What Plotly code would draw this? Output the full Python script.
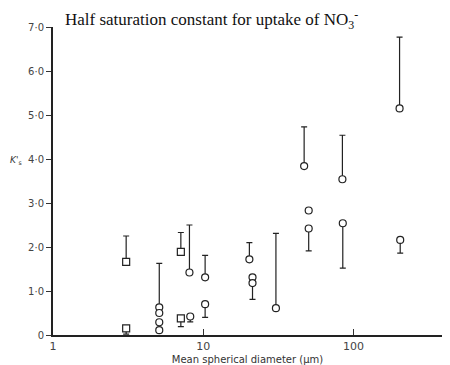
import plotly.graph_objects as go

# Circles (open)
circ_d = [5.1, 5.1, 5.1, 5.1, 8.1, 10.3, 10.3, 8.2, 20.3, 21.3, 21.3, 30.5, 47, 50.4, 50.4, 84.5, 85, 203, 205]
circ_k = [0.63, 0.50, 0.29, 0.11, 1.42, 1.31, 0.70, 0.42, 1.72, 1.31, 1.18, 0.61, 3.84, 2.83, 2.42, 3.54, 2.54, 5.15, 2.16]
circ_up = [1.00, 0, 0, 0, 1.08, 0.50, 0, 0, 0.38, 0, 0, 1.70, 0.89, 0, 0, 1.00, 0, 1.62, 0]
circ_dn = [0, 0, 0, 0, 0, 0, 0.30, 0.12, 0, 0, 0.37, 0, 0, 0, 0.51, 0, 1.02, 0, 0.30]

# Squares (open)
sq_d = [3.07, 3.07, 7.1, 7.1]
sq_k = [1.66, 0.15, 1.89, 0.38]
sq_up = [0.59, 0, 0.44, 0]
sq_dn = [0, 0.13, 0, 0.19]

y_ticks = [0, 1, 2, 3, 4, 5, 6, 7]
y_labels = ["0", "1·0", "2·0", "3·0", "4·0", "5·0", "6·0", "7·0"]
x_ticks = [1, 10, 100]
x_labels = ["1", "10", "100"]

fig = go.Figure()
err_style = dict(type="data", symmetric=False, color="#222", thickness=1.2, width=3)

fig.add_trace(go.Scatter(
    x=circ_d, y=circ_k, mode="markers",
    marker=dict(symbol="circle", size=7, color="white", line=dict(color="#222", width=1.2)),
    error_y=dict(array=circ_up, arrayminus=circ_dn, **err_style),
    showlegend=False))
fig.add_trace(go.Scatter(
    x=sq_d, y=sq_k, mode="markers",
    marker=dict(symbol="square", size=7, color="white", line=dict(color="#222", width=1.2)),
    error_y=dict(array=sq_up, arrayminus=sq_dn, **err_style),
    showlegend=False))

fig.update_layout(
    width=442, height=357,
    margin=dict(l=45, r=8, t=19, b=30, autoexpand=False),
    paper_bgcolor="white", plot_bgcolor="white",
    font=dict(family="DejaVu Sans", size=10, color="#444"),
    xaxis=dict(type="log", range=[0, 2.59], tickvals=x_ticks, ticktext=x_labels,
               ticks="inside", ticklen=6, tickwidth=1, tickcolor="#333", automargin=False,
               showline=True, linecolor="#222", linewidth=2, showgrid=False, zeroline=False,
               tickfont=dict(size=11),
               title=dict(text="Mean spherical diameter (μm)",
                          font=dict(size=10, color="#333"))),
    yaxis=dict(range=[0, 7], tickvals=y_ticks, ticktext=y_labels, automargin=False,
               ticks="outside", ticklen=5, tickwidth=1, tickcolor="#333",
               showline=True, linecolor="#222", linewidth=2, showgrid=False, zeroline=False),
    annotations=[
        dict(text="Half saturation constant for uptake of NO<sub>3</sub><sup>-</sup>",
             xref="paper", yref="paper", x=0.026, y=1.025, xanchor="left", yanchor="middle",
             showarrow=False,
             font=dict(family="Liberation Serif", size=17, color="#111")),
        dict(text="<i>K</i>'<sub>s</sub>", xref="paper", yref="paper", x=-0.095, y=0.568,
             xanchor="center", yanchor="middle", showarrow=False,
             font=dict(family="DejaVu Sans", size=9, color="#333")),
    ],
)

fig.write_html("out.html")
